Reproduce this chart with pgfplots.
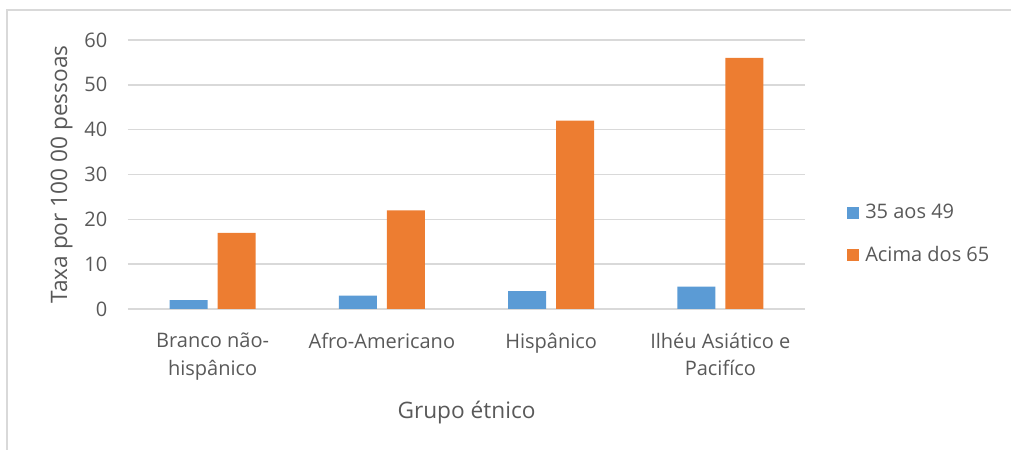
\documentclass[border=0pt]{standalone}
\usepackage{fontspec}
\setmainfont{Open Sans}
\usepackage{pgfplots}
\pgfplotsset{compat=1.18}
\definecolor{sblue}{HTML}{5B9BD5}
\definecolor{sorange}{HTML}{ED7D31}
\definecolor{txt}{HTML}{595959}
\definecolor{grd}{HTML}{D9D9D9}
\newcommand\cf{\fontsize{15}{20.5}\selectfont}
\newcommand\lf{\fontsize{17}{21}\selectfont}
\begin{document}
\begin{tikzpicture}
\begin{axis}[
  name=ax,
  scale only axis,
  width=507.75pt, height=201.75pt,
  ybar=7.5pt, bar width=28.5pt,
  xmin=-0.5, xmax=3.5,
  ymin=0, ymax=60,
  xtick={0,1,2,3},
  xticklabels={{Branco não-\\hispânico},{Afro-Americano},{Hispânico},{Ilhéu Asiático e\\Pacifíco}},
  ytick={0,10,...,60},
  ymajorgrids,
  grid style={grd, line width=1.1pt},
  axis line style={draw=none},
  major tick length=0pt,
  tick style={draw=none},
  /pgf/number format/assume math mode=true,
  tick label style={font=\cf, text=txt},
  xticklabel style={align=center, yshift=-14.5pt},
  yticklabel style={xshift=-12pt},
  label style={font=\lf, text=txt},
  xlabel={Grupo étnico},
  ylabel={Taxa por 100 00 pessoas},
  xlabel style={yshift=-9pt},
  ylabel style={yshift=2pt},
  legend style={draw=none, fill=none, at={(1,0.279)}, anchor=west, xshift=31pt,
    font=\cf, text=txt, row sep=15pt, inner sep=0pt,
    nodes={inner xsep=5pt}},
  legend cell align=left,
  legend image code/.code={\fill[#1] (0pt,-4.5pt) rectangle (9pt,4.5pt);},
  clip=false,
]
\addplot[draw=none, fill=sblue] coordinates {(0,2) (1,3) (2,4) (3,5)};
\addplot[draw=none, fill=sorange] coordinates {(0,17) (1,22) (2,42) (3,56)};
\legend{35 aos 49, Acima dos 65}
\end{axis}
\draw[grd, line width=1.1pt] ([xshift=-90.75pt,yshift=-200pt]ax.south west) |- ([xshift=300pt,yshift=22.5pt]ax.north east);
\pgfresetboundingbox
\path[use as bounding box] ([xshift=-96pt,yshift=-105.75pt]ax.south west) rectangle ([xshift=154.5pt,yshift=30pt]ax.north east);
\end{tikzpicture}
\end{document}
